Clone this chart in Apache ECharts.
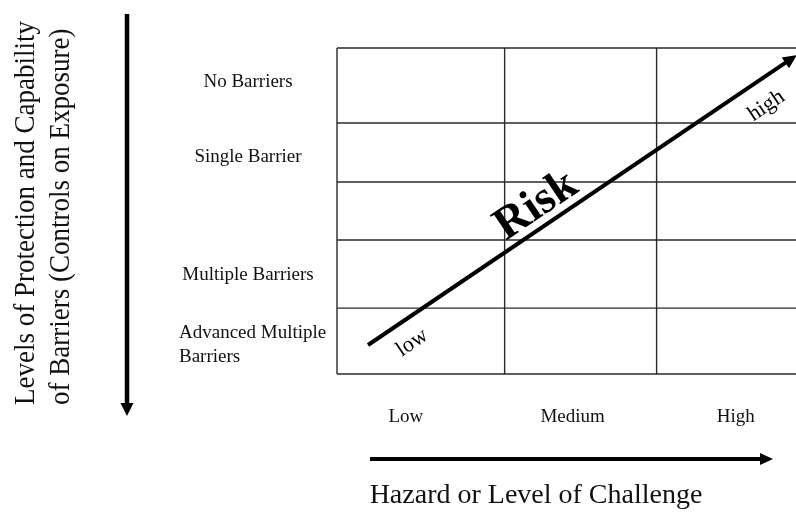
<!DOCTYPE html>
<html><head><meta charset="utf-8">
<script src="https://cdn.jsdelivr.net/npm/echarts@6/dist/echarts.min.js"></script>
<style>html,body{margin:0;padding:0;background:#fff}#c{width:796px;height:514px}</style>
</head><body><div id="c"></div>
<script>
// ---------- data ----------
const hazardLevels = ['Low', 'Medium', 'High'];
const barrierLevels = ['No Barriers', 'Single Barrier', '', 'Multiple Barriers', 'Advanced Multiple\nBarriers'];
const hazardEdges = [0, 1.07, 2.04, 3];
const barrierEdges = [0, 1.15, 2.055, 2.945, 3.99, 5];
const riskTrend = [0.198, 4.555, 2.936, 0.107]; // start x,y -> end x,y
const riskLabels = ['low', 'Risk', 'high'];
const xTitle = 'Hazard or Level of Challenge';
const yTitle = ['Levels of Protection and Capability', 'of Barriers (Controls on Exposure)'];

// ---------- layout ----------
const FONT = '"Liberation Serif","Times New Roman",serif';
const rowLabelX = 248;
const rowLabelNudge = [-3, 5, 0, 1, 4];
const colLabelNudge = [-15, -8, 4];
const colLabelGap = 43;
const riskLabelPos = [[0.073, 23], [0.42, -21], [0.896, 25]];
const riskFont = [[22, 'normal'], [46, 'bold'], [22, 'normal']];

const chart = echarts.init(document.getElementById('c'), null, {renderer: 'canvas'});

const option = {
  animation: false,
  backgroundColor: '#fff',
  grid: {left: 337, top: 48, width: 470, height: 326, outerBoundsMode: 'none', containLabel: false},
  xAxis: {type: 'value', min: 0, max: 3, show: false},
  yAxis: {type: 'value', min: 0, max: 5, inverse: true, show: false},
  series: [
    {
      type: 'custom', name: 'colLines',
      data: hazardEdges.map(v => [v, 0]),
      encode: {x: 0, y: 1},
      renderItem: (params, api) => {
        const v = api.value(0);
        const p0 = api.coord([v, barrierEdges[0]]);
        const p1 = api.coord([v, barrierEdges[barrierEdges.length - 1]]);
        return {type: 'line', shape: {x1: p0[0], y1: p0[1], x2: p1[0], y2: p1[1]},
          style: {stroke: '#2a2a2a', lineWidth: 1.4}};
      }
    },
    {
      type: 'custom', name: 'rowLines',
      data: barrierEdges.map(v => [0, v]),
      encode: {x: 0, y: 1},
      renderItem: (params, api) => {
        const v = api.value(1);
        const p0 = api.coord([hazardEdges[0], v]);
        const p1 = api.coord([hazardEdges[hazardEdges.length - 1], v]);
        return {type: 'line', shape: {x1: p0[0], y1: p0[1], x2: p1[0], y2: p1[1]},
          style: {stroke: '#2a2a2a', lineWidth: 1.4}};
      }
    },
    {
      type: 'custom', name: 'rowLabels',
      data: barrierLevels.map((n, i) => [0, (barrierEdges[i] + barrierEdges[i + 1]) / 2]),
      encode: {x: 0, y: 1},
      renderItem: (params, api) => {
        const i = params.dataIndex;
        const txt = barrierLevels[i];
        if (!txt) return null;
        const p = api.coord([0, api.value(1)]);
        const multi = txt.indexOf('\n') >= 0;
        return {type: 'text', x: multi ? 179 : rowLabelX, y: p[1] + rowLabelNudge[i],
          style: {text: txt, fontFamily: FONT, fontSize: 19, fill: '#111', lineHeight: 24,
            align: multi ? 'left' : 'center', verticalAlign: 'middle'}};
      }
    },
    {
      type: 'custom', name: 'colLabels',
      data: hazardLevels.map((n, i) => [(hazardEdges[i] + hazardEdges[i + 1]) / 2, 5]),
      encode: {x: 0, y: 1},
      renderItem: (params, api) => {
        const i = params.dataIndex;
        const p = api.coord([api.value(0), api.value(1)]);
        return {type: 'text', x: p[0] + colLabelNudge[i], y: p[1] + colLabelGap,
          style: {text: hazardLevels[i], fontFamily: FONT, fontSize: 19, fill: '#111',
            align: 'center', verticalAlign: 'middle'}};
      }
    },
    {
      type: 'custom', name: 'risk',
      data: [riskTrend],
      encode: {x: [0, 2], y: [1, 3]},
      renderItem: (params, api) => {
        const p0 = api.coord([api.value(0), api.value(1)]);
        const p1 = api.coord([api.value(2), api.value(3)]);
        const dx = p1[0] - p0[0], dy = p1[1] - p0[1];
        const len = Math.sqrt(dx * dx + dy * dy);
        const ux = dx / len, uy = dy / len;
        const nx = -uy, ny = ux; // below-right normal
        const L = 14, W = 13;
        const bx = p1[0] - ux * L, by = p1[1] - uy * L;
        const ang = Math.atan2(-dy, dx);
        const children = [
          {type: 'line', shape: {x1: p0[0], y1: p0[1], x2: bx + ux * 2, y2: by + uy * 2},
            style: {stroke: '#000', lineWidth: 4}},
          {type: 'polygon', shape: {points: [[p1[0], p1[1]], [bx + nx * W / 2, by + ny * W / 2], [bx - nx * W / 2, by - ny * W / 2]]},
            style: {fill: '#000'}}
        ];
        riskLabels.forEach((t, i) => {
          const f = riskLabelPos[i][0], off = riskLabelPos[i][1];
          const cx = p0[0] + dx * f + nx * off, cy = p0[1] + dy * f + ny * off;
          children.push({type: 'text', x: cx, y: cy, rotation: ang,
            style: {text: t, fontFamily: FONT, fontSize: riskFont[i][0], fontWeight: riskFont[i][1],
              fill: '#000', align: 'center', verticalAlign: 'middle'}});
        });
        return {type: 'group', children};
      }
    }
  ],
  graphic: [
    {type: 'line', shape: {x1: 127, y1: 14, x2: 127, y2: 406}, style: {stroke: '#000', lineWidth: 4.5}},
    {type: 'polygon', shape: {points: [[120.5, 403], [133.5, 403], [127, 416]]}, style: {fill: '#000'}},
    {type: 'line', shape: {x1: 370, y1: 459, x2: 763, y2: 459}, style: {stroke: '#000', lineWidth: 4}},
    {type: 'polygon', shape: {points: [[760, 453], [760, 465], [773, 459]]}, style: {fill: '#000'}},
    {type: 'text', x: 536, y: 496, style: {text: xTitle, fontFamily: FONT, fontSize: 28, fill: '#111', align: 'center', verticalAlign: 'middle'}},
    {type: 'text', x: 26, y: 405, rotation: Math.PI / 2, scaleY: 1.08, style: {text: yTitle[0], fontFamily: FONT, fontSize: 27, fill: '#111', align: 'left', verticalAlign: 'middle'}},
    {type: 'text', x: 61, y: 405, rotation: Math.PI / 2, scaleY: 1.08, style: {text: yTitle[1], fontFamily: FONT, fontSize: 27, fill: '#111', align: 'left', verticalAlign: 'middle'}}
  ]
};
chart.setOption(option);
</script>
</body></html>
